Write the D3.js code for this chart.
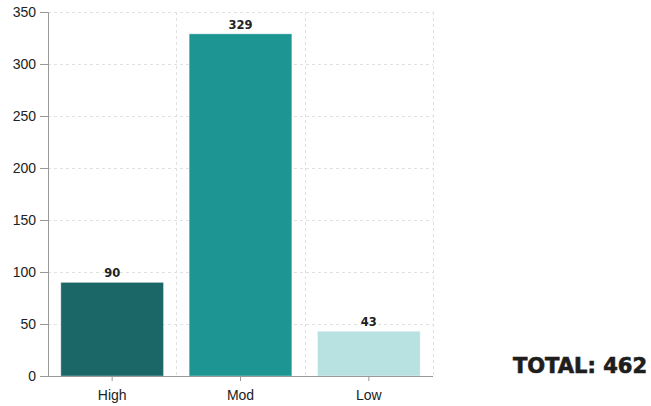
<!DOCTYPE html>
<html>
<head>
<meta charset="utf-8">
<script src="https://cdn.jsdelivr.net/npm/d3@7"></script>
<style>
  html, body { margin: 0; padding: 0; background: #fff; }
  svg { display: block; }
</style>
</head>
<body>
<script>
// Risk level counts
const categories = ["High", "Mod", "Low"];
const counts = [90, 329, 43];
const barColors = ["#1b6767", "#1c9593", "#b8e1e2"];
const yTicks = [0, 50, 100, 150, 200, 250, 300, 350];

const width = 651, height = 406;
const margin = { left: 48, top: 12, right: 218, bottom: 30 };
const plotRight = width - margin.right;
const plotBottom = height - margin.bottom;

const svg = d3.select("body").append("svg")
  .attr("width", width).attr("height", height);

const x = d3.scaleBand().domain(categories)
  .range([margin.left, plotRight])
  .paddingInner(0.2).paddingOuter(0.1);

const y = d3.scaleLinear().domain([0, 350]).range([plotBottom, margin.top]);

// Horizontal gridlines
svg.append("g").selectAll("line").data(yTicks.filter(d => d > 0)).join("line")
  .attr("x1", margin.left).attr("x2", plotRight)
  .attr("y1", d => y(d) + 0.5).attr("y2", d => y(d) + 0.5)
  .attr("stroke", "#e0e0e0").attr("stroke-dasharray", "3,3");

// Vertical gridlines between categories and at the right edge
const step = x.step();
const vLines = categories.map((c, i) => margin.left + step * (i + 1));
svg.append("g").selectAll("line").data(vLines).join("line")
  .attr("x1", d => Math.round(d) + 0.5).attr("x2", d => Math.round(d) + 0.5)
  .attr("y1", margin.top).attr("y2", plotBottom)
  .attr("stroke", "#e0e0e0").attr("stroke-dasharray", "3,3");

// Bars
svg.append("g").selectAll("rect").data(counts).join("rect")
  .attr("x", (d, i) => x(categories[i]))
  .attr("y", d => y(d))
  .attr("width", x.bandwidth())
  .attr("height", d => plotBottom - y(d))
  .attr("fill", (d, i) => barColors[i])
  .attr("stroke", "rgba(255,255,255,0.35)")
  .attr("stroke-width", 1);

// Value labels
svg.append("g").selectAll("text").data(counts).join("text")
  .attr("x", (d, i) => x(categories[i]) + x.bandwidth() / 2)
  .attr("y", d => y(d) - 5)
  .attr("text-anchor", "middle")
  .attr("font-family", "'DejaVu Sans', sans-serif")
  .attr("font-weight", 700)
  .attr("font-size", 11.5)
  .attr("fill", "#222")
  .text(d => d);

// Y axis
const yAxis = svg.append("g")
  .attr("transform", `translate(${margin.left},0)`)
  .call(d3.axisLeft(y).tickValues(yTicks).tickSize(8).tickPadding(4));
// X axis
const xAxis = svg.append("g")
  .attr("transform", `translate(0,${plotBottom})`)
  .call(d3.axisBottom(x).tickSize(5).tickPadding(9));

[yAxis, xAxis].forEach(g => {
  g.select(".domain").attr("stroke", "#999");
  g.selectAll(".tick line").attr("stroke", "#999");
  g.selectAll("text")
    .attr("font-family", "'Liberation Sans', Arial, sans-serif")
    .attr("font-size", 14)
    .attr("fill", "#222");
});
xAxis.select(".domain").attr("d", `M${margin.left},0.5H${plotRight}`);

// Total label
svg.append("text")
  .attr("x", 647).attr("y", 373)
  .attr("text-anchor", "end")
  .attr("font-family", "'DejaVu Sans', sans-serif")
  .attr("font-weight", 700)
  .attr("font-size", 21)
  .attr("fill", "#1e1e1e")
  .attr("stroke", "#1e1e1e")
  .attr("stroke-width", 0.7)
  .text("TOTAL: " + d3.sum(counts));
</script>
</body>
</html>
